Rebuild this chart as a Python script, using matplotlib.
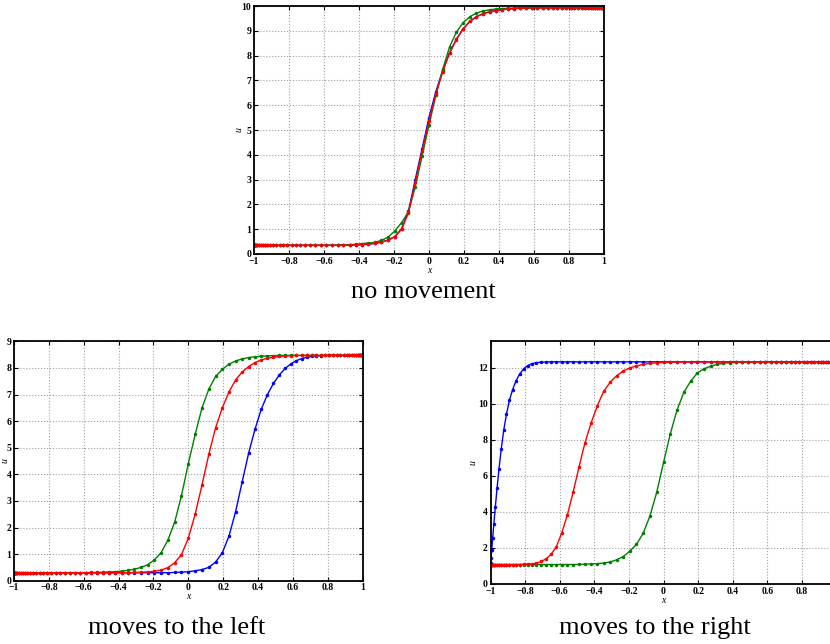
import matplotlib.pyplot as plt
import numpy as np

# Collocation grid on [-1, 1] (81 points, clustered towards the ends)
x_nodes = [
    -1.0, -0.99923, -0.99692, -0.99307, -0.98769, -0.98079, -0.97237, -0.96246, -0.95106,
    -0.93819, -0.92388, -0.90814, -0.89101, -0.8725, -0.85264, -0.83147, -0.80902, -0.78531,
    -0.76041, -0.73432, -0.70711, -0.6788, -0.64945, -0.61909, -0.58779, -0.55557, -0.5225,
    -0.48862, -0.45399, -0.41866, -0.38268, -0.34612, -0.30902, -0.27144, -0.23345, -0.19509,
    -0.15643, -0.11754, -0.07846, -0.03926, 0.0, 0.03926, 0.07846, 0.11754, 0.15643,
    0.19509, 0.23345, 0.27144, 0.30902, 0.34612, 0.38268, 0.41866, 0.45399, 0.48862,
    0.5225, 0.55557, 0.58779, 0.61909, 0.64945, 0.6788, 0.70711, 0.73432, 0.76041,
    0.78531, 0.80902, 0.83147, 0.85264, 0.8725, 0.89101, 0.90814, 0.92388, 0.93819,
    0.95106, 0.96246, 0.97237, 0.98079, 0.98769, 0.99307, 0.99692, 0.99923, 1.0,
]

# no movement
still_blue = [
    0.35, 0.35, 0.35, 0.35, 0.35, 0.35, 0.35, 0.35, 0.35,
    0.35, 0.35, 0.35, 0.35, 0.35, 0.35, 0.35, 0.35, 0.35,
    0.35, 0.35, 0.35, 0.35, 0.35, 0.35, 0.35, 0.35, 0.35,
    0.35, 0.36, 0.37, 0.38, 0.40, 0.43, 0.48, 0.56, 0.70,
    1.02, 1.72, 3.00, 4.25, 5.50, 6.55, 7.40, 8.12, 8.66,
    9.08, 9.38, 9.57, 9.69, 9.77, 9.82, 9.86, 9.88, 9.90,
    9.91, 9.92, 9.93, 9.93, 9.93, 9.93, 9.93, 9.93, 9.93,
    9.93, 9.93, 9.93, 9.93, 9.93, 9.93, 9.93, 9.93, 9.93,
    9.93, 9.93, 9.93, 9.93, 9.93, 9.93, 9.93, 9.93, 9.93,
]
still_green = [
    0.35, 0.35, 0.35, 0.35, 0.35, 0.35, 0.35, 0.35, 0.35,
    0.35, 0.35, 0.35, 0.35, 0.35, 0.35, 0.35, 0.35, 0.35,
    0.35, 0.35, 0.35, 0.35, 0.35, 0.35, 0.35, 0.35, 0.36,
    0.37, 0.38, 0.39, 0.42, 0.44, 0.47, 0.55, 0.68, 0.93,
    1.27, 1.70, 2.70, 3.95, 5.20, 6.40, 7.45, 8.35, 8.95,
    9.33, 9.57, 9.72, 9.80, 9.85, 9.88, 9.90, 9.91, 9.92,
    9.93, 9.93, 9.93, 9.93, 9.93, 9.93, 9.93, 9.93, 9.93,
    9.93, 9.93, 9.93, 9.93, 9.93, 9.93, 9.93, 9.93, 9.93,
    9.93, 9.93, 9.93, 9.93, 9.93, 9.93, 9.93, 9.93, 9.93,
]
still_red = [
    0.35, 0.35, 0.35, 0.35, 0.35, 0.35, 0.35, 0.35, 0.35,
    0.35, 0.35, 0.35, 0.35, 0.35, 0.35, 0.35, 0.35, 0.35,
    0.35, 0.35, 0.35, 0.35, 0.35, 0.35, 0.35, 0.35, 0.35,
    0.35, 0.36, 0.37, 0.38, 0.40, 0.43, 0.48, 0.56, 0.70,
    1.00, 1.65, 2.90, 4.15, 5.35, 6.45, 7.35, 8.10, 8.65,
    9.08, 9.38, 9.57, 9.69, 9.77, 9.82, 9.86, 9.88, 9.90,
    9.91, 9.92, 9.93, 9.93, 9.93, 9.93, 9.93, 9.93, 9.93,
    9.93, 9.93, 9.93, 9.93, 9.93, 9.93, 9.93, 9.93, 9.93,
    9.93, 9.93, 9.93, 9.93, 9.93, 9.93, 9.93, 9.93, 9.93,
]

# moves to the left
left_blue = [
    0.30, 0.30, 0.30, 0.30, 0.30, 0.30, 0.30, 0.30, 0.30,
    0.30, 0.30, 0.30, 0.30, 0.30, 0.30, 0.30, 0.30, 0.30,
    0.30, 0.30, 0.30, 0.30, 0.30, 0.30, 0.30, 0.30, 0.30,
    0.30, 0.30, 0.30, 0.30, 0.30, 0.30, 0.30, 0.30, 0.30,
    0.30, 0.30, 0.31, 0.32, 0.34, 0.37, 0.42, 0.50, 0.70,
    1.05, 1.68, 2.60, 3.72, 4.80, 5.70, 6.45, 7.00, 7.42,
    7.74, 7.98, 8.15, 8.27, 8.35, 8.40, 8.43, 8.45, 8.46,
    8.47, 8.47, 8.47, 8.47, 8.47, 8.47, 8.47, 8.47, 8.47,
    8.47, 8.47, 8.47, 8.47, 8.47, 8.47, 8.47, 8.47, 8.47,
]
left_green = [
    0.30, 0.30, 0.30, 0.30, 0.30, 0.30, 0.30, 0.30, 0.30,
    0.30, 0.30, 0.30, 0.30, 0.30, 0.30, 0.30, 0.30, 0.30,
    0.30, 0.30, 0.30, 0.30, 0.30, 0.30, 0.30, 0.31, 0.31,
    0.32, 0.33, 0.34, 0.36, 0.39, 0.43, 0.50, 0.60, 0.78,
    1.05, 1.52, 2.20, 3.20, 4.40, 5.50, 6.50, 7.20, 7.68,
    7.95, 8.14, 8.26, 8.34, 8.39, 8.42, 8.44, 8.45, 8.46,
    8.47, 8.47, 8.47, 8.47, 8.47, 8.47, 8.47, 8.47, 8.47,
    8.47, 8.47, 8.47, 8.47, 8.47, 8.47, 8.47, 8.47, 8.47,
    8.47, 8.47, 8.47, 8.47, 8.47, 8.47, 8.47, 8.47, 8.47,
]
left_red = [
    0.30, 0.30, 0.30, 0.30, 0.30, 0.30, 0.30, 0.30, 0.30,
    0.30, 0.30, 0.30, 0.30, 0.30, 0.30, 0.30, 0.30, 0.30,
    0.30, 0.30, 0.30, 0.30, 0.30, 0.30, 0.30, 0.30, 0.30,
    0.30, 0.30, 0.30, 0.30, 0.30, 0.31, 0.32, 0.33, 0.35,
    0.40, 0.49, 0.68, 0.98, 1.60, 2.50, 3.60, 4.75, 5.75,
    6.50, 7.10, 7.55, 7.85, 8.05, 8.20, 8.30, 8.36, 8.40,
    8.43, 8.45, 8.46, 8.47, 8.47, 8.47, 8.47, 8.47, 8.47,
    8.47, 8.47, 8.47, 8.47, 8.47, 8.47, 8.47, 8.47, 8.47,
    8.47, 8.47, 8.47, 8.47, 8.47, 8.47, 8.47, 8.47, 8.47,
]

# moves to the right
right_blue = [
    1.10, 1.19, 1.46, 1.91, 2.54, 3.34, 4.27, 5.31, 6.40,
    7.50, 8.53, 9.42, 10.20, 10.80, 11.28, 11.67, 11.95, 12.13,
    12.24, 12.30, 12.32, 12.33, 12.34, 12.34, 12.34, 12.34, 12.34,
    12.34, 12.34, 12.34, 12.34, 12.34, 12.34, 12.34, 12.34, 12.34,
    12.34, 12.34, 12.34, 12.34, 12.34, 12.34, 12.34, 12.34, 12.34,
    12.34, 12.34, 12.34, 12.34, 12.34, 12.34, 12.34, 12.34, 12.34,
    12.34, 12.34, 12.34, 12.34, 12.34, 12.34, 12.34, 12.34, 12.34,
    12.34, 12.34, 12.34, 12.34, 12.34, 12.34, 12.34, 12.34, 12.34,
    12.34, 12.34, 12.34, 12.34, 12.34, 12.34, 12.34, 12.34, 12.34,
]
right_green = [
    1.08, 1.08, 1.08, 1.08, 1.08, 1.08, 1.08, 1.08, 1.08,
    1.08, 1.08, 1.08, 1.08, 1.08, 1.08, 1.08, 1.08, 1.08,
    1.08, 1.08, 1.08, 1.08, 1.08, 1.08, 1.08, 1.08, 1.08,
    1.09, 1.10, 1.11, 1.13, 1.16, 1.22, 1.34, 1.52, 1.82,
    2.20, 2.82, 3.78, 5.10, 6.75, 8.35, 9.68, 10.65, 11.26,
    11.72, 11.95, 12.10, 12.20, 12.26, 12.30, 12.32, 12.33, 12.34,
    12.34, 12.34, 12.34, 12.34, 12.34, 12.34, 12.34, 12.34, 12.34,
    12.34, 12.34, 12.34, 12.34, 12.34, 12.34, 12.34, 12.34, 12.34,
    12.34, 12.34, 12.34, 12.34, 12.34, 12.34, 12.34, 12.34, 12.34,
]
right_red = [
    1.08, 1.08, 1.08, 1.08, 1.08, 1.08, 1.08, 1.08, 1.08,
    1.08, 1.08, 1.08, 1.08, 1.08, 1.08, 1.08, 1.09, 1.10,
    1.12, 1.16, 1.25, 1.40, 1.65, 2.08, 2.85, 3.85, 5.10,
    6.50, 7.85, 8.95, 9.90, 10.70, 11.20, 11.57, 11.83, 12.00,
    12.12, 12.20, 12.26, 12.29, 12.31, 12.32, 12.33, 12.34, 12.34,
    12.34, 12.34, 12.34, 12.34, 12.34, 12.34, 12.34, 12.34, 12.34,
    12.34, 12.34, 12.34, 12.34, 12.34, 12.34, 12.34, 12.34, 12.34,
    12.34, 12.34, 12.34, 12.34, 12.34, 12.34, 12.34, 12.34, 12.34,
    12.34, 12.34, 12.34, 12.34, 12.34, 12.34, 12.34, 12.34, 12.34,
]

x_ticks = [-1, -0.8, -0.6, -0.4, -0.2, 0, 0.2, 0.4, 0.6, 0.8, 1]
x_tick_labels = ["\u22121", "\u22120.8", "\u22120.6", "\u22120.4", "\u22120.2", "0",
                 "0.2", "0.4", "0.6", "0.8", "1"]
still_yticks = [0, 1, 2, 3, 4, 5, 6, 7, 8, 9, 10]
left_yticks = [0, 1, 2, 3, 4, 5, 6, 7, 8, 9]
right_yticks = [0, 2, 4, 6, 8, 10, 12]

captions = ["no movement", "moves to the left", "moves to the right"]

colours = [(0, 0, 1), (0, 0.5, 0), (1, 0, 0)]
SERIF = ["Liberation Serif", "DejaVu Serif"]


def setup_axes(ax, ylim, yticks, ylabel_x):
    ax.set_xlim(-1, 1)
    ax.set_ylim(*ylim)
    ax.set_xticks(x_ticks)
    ax.set_xticklabels(x_tick_labels)
    ax.set_yticks(yticks)
    ax.set_yticklabels([str(t) for t in yticks])
    for lab in ax.get_xticklabels() + ax.get_yticklabels():
        lab.set_family(SERIF)
        lab.set_fontweight("bold")
        lab.set_fontsize(7)
    ax.tick_params(direction="in", top=True, right=True, length=3, width=0.8, pad=2)
    ax.grid(True, linestyle=":", color="#a0a0a0", linewidth=0.8)
    for sp in ax.spines.values():
        sp.set_linewidth(1.3)
    ax.set_xlabel("x", family=SERIF, style="italic", fontsize=7, labelpad=0)
    ax.set_ylabel("u", family=SERIF, style="italic", fontsize=7)
    ax.yaxis.set_label_coords(ylabel_x, 0.5)


fig = plt.figure(figsize=(8.3, 6.44), dpi=100)

# axes boxes in figure fractions: [left, bottom, width, height]
ax_still = fig.add_axes([0.306, 0.6056, 0.4217, 0.385])
ax_left = fig.add_axes([0.0169, 0.0983, 0.420, 0.3717])
ax_right = fig.add_axes([0.591, 0.0932, 0.4169, 0.3773])

panels = [
    (ax_still, [still_blue, still_green, still_red], (0, 10), still_yticks, -0.029),
    (ax_left, [left_blue, left_green, left_red], (0, 9), left_yticks, -0.013),
    (ax_right, [right_blue, right_green, right_red], (0, 13.5), right_yticks, -0.038),
]

for ax, series, ylim, yticks, ylabel_x in panels:
    for u, colour in zip(series, colours):
        ax.plot(x_nodes, u, color=colour, marker=".", markersize=3, linewidth=1.0)
    setup_axes(ax, ylim, yticks, ylabel_x)

# captions under each panel
fig.text(423 / 830, 1 - 292 / 644, captions[0], family=SERIF, fontsize=19, ha="center", va="center")
fig.text(177 / 830, 1 - 628 / 644, captions[1], family=SERIF, fontsize=19, ha="center", va="center")
fig.text(655 / 830, 1 - 628 / 644, captions[2], family=SERIF, fontsize=19, ha="center", va="center")

plt.savefig("out.png", dpi=100)
